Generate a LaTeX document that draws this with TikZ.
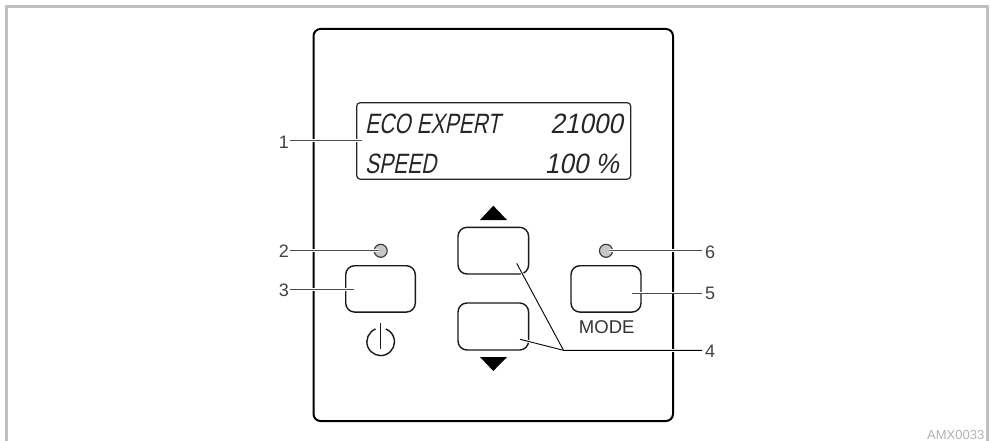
\documentclass[tikz,border=0pt]{standalone}
\usepackage{fontspec}
\setmainfont{Liberation Sans}
\newfontfamily\lcdfont[FakeSlant=0.2,FakeStretch=0.75]{Liberation Sans}
\newfontfamily\lcdnum[FakeSlant=0.2,FakeStretch=0.93]{Liberation Sans}
\tikzset{
  x=1pt,y=-1pt,
  framerule/.style={draw=black!25,line width=3pt},
  panel/.style={draw=black,line width=2pt,rounded corners=7pt,outer sep=0pt},
  screen/.style={draw=black!85,line width=1.2pt,rounded corners=3.5pt,outer sep=0pt},
  btn/.style={draw=black!90,line width=1.4pt,rounded corners=9pt,outer sep=0pt},
  led/.style={circle,draw=black!80,fill=black!22,line width=1.1pt,minimum size=13pt,inner sep=0pt,outer sep=0pt},
  halo/.style={draw=white,line width=2.6pt},
  leader/.style={draw=black!70,line width=1pt},
  num/.style={font=\fontsize{18}{20}\selectfont,text=black!75,inner sep=0pt},
  lcd/.style={font=\lcdfont\fontsize{28}{30}\selectfont,text=black!85,inner sep=0pt},
  lcdn/.style={font=\lcdnum\fontsize{28}{30}\selectfont,text=black!85,inner sep=0pt},
  tri/.style={fill=black,draw=none}
}
\begin{document}
\begin{tikzpicture}
\useasboundingbox (0,0) rectangle (990,441);
\draw[framerule,line cap=butt] (6.5,441) -- (6.5,7) -- (987,7) -- (987,441);
\node[panel,minimum width=359.5pt,minimum height=392pt,anchor=north west,inner sep=0pt] (body) at (313.5,29) {};
\node[screen,minimum width=274pt,minimum height=76.5pt,anchor=north west,inner sep=0pt] (display) at (356.7,102.7) {};
\node[lcd,anchor=base west] (t1) at (365,134) {ECO EXPERT};
\node[lcdn,anchor=base east] (t2) at (623,134) {21000};
\node[lcd,anchor=base west] (t3) at (365,173) {SPEED};
\node[lcdn,anchor=base east] (t4) at (619,173) {100 \%};
\node[btn,minimum width=69.6pt,minimum height=46.4pt,anchor=north west,inner sep=0pt] (power) at (345.7,265.7) {};
\node[btn,minimum width=70.6pt,minimum height=46.7pt,anchor=north west,inner sep=0pt] (up) at (458,227.3) {};
\node[btn,minimum width=70.6pt,minimum height=47pt,anchor=north west,inner sep=0pt] (down) at (458,303) {};
\node[btn,minimum width=70pt,minimum height=46.4pt,anchor=north west,inner sep=0pt] (mode) at (571,265.7) {};
\node[led] (ledl) at (380.7,250.8) {};
\node[led] (ledr) at (606,250.8) {};
\fill[tri] (493.3,205.7) -- (507,220) -- (480,220) -- cycle;
\fill[tri] (493.3,371) -- (507,357) -- (480,357) -- cycle;
\draw[black!90,line width=1.4pt] (380.7,323) -- (380.7,349);
\draw[black!90,line width=1.4pt] (375.5,329) arc[start angle=-112,end angle=-428,radius=13.8];
\node[font=\fontsize{18.5}{20}\selectfont,text=black!80,inner sep=0pt] (modetxt) at (606.7,326.7) {MODE};
% labels
\node[num,anchor=east] (n1) at (289,142) {1};
\node[num,anchor=east] (n2) at (289,251.5) {2};
\node[num,anchor=east] (n3) at (289,290.5) {3};
\node[num,anchor=west] (n6) at (705,252) {6};
\node[num,anchor=west] (n5) at (705,293.5) {5};
\node[num,anchor=west] (n4) at (705,351.5) {4};
% leader ends
\coordinate (e1) at (362,140.7);
\coordinate (e2) at (379,250.7);
\coordinate (e3) at (354,289.3);
\coordinate (e6) at (609,250.7);
\coordinate (e5) at (632.3,293);
\coordinate (e4) at (563.5,350.3);
\coordinate (eup) at (516.7,263.3);
\coordinate (edn) at (520,339.3);
\coordinate (s1) at (290,140.7);
\coordinate (s2) at (290,250.7);
\coordinate (s3) at (290,289.3);
\coordinate (s6) at (702,250.7);
\coordinate (s5) at (702,293);
\coordinate (s4) at (702,350.3);
\foreach \a/\b in {s1/e1,s2/e2,s3/e3,s6/e6,s5/e5,s4/e4}{\draw[halo] (\a) -- (\b);}
\draw[halo] (edn) -- (e4) -- (eup);
\foreach \a/\b in {s1/e1,s2/e2,s3/e3,s6/e6,s5/e5}{\draw[leader] (\a) -- (\b);}
\draw[black,line width=.9pt] (s4) -- (e4) -- (eup);
\draw[black,line width=.9pt] (e4) -- (edn);
\node[font=\fontsize{13}{14}\selectfont,text=black!30,inner sep=0pt,anchor=base east] (code) at (984.5,439) {AMX0033};
\end{tikzpicture}
\end{document}
